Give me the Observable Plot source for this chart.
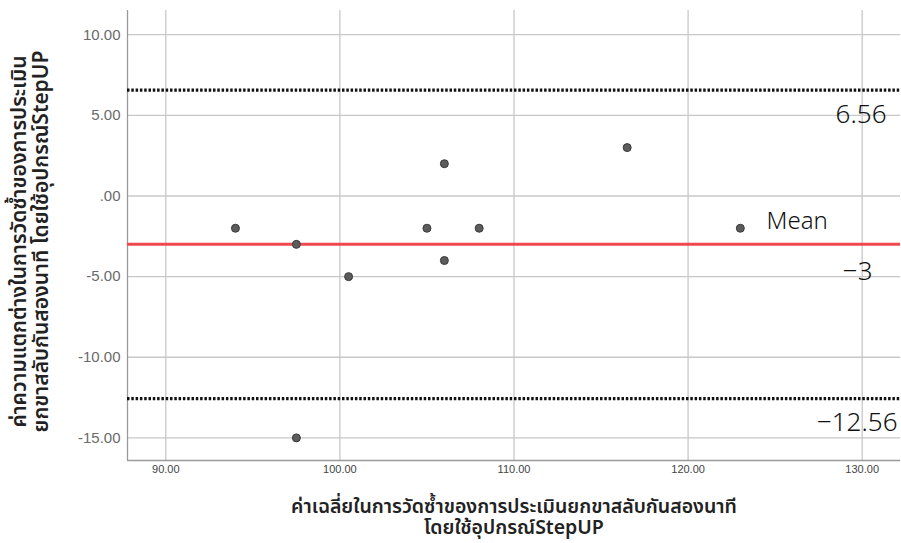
<!DOCTYPE html>
<html>
<head>
<meta charset="utf-8">
<script src="https://cdn.jsdelivr.net/npm/d3@7"></script>
<script src="https://cdn.jsdelivr.net/npm/@observablehq/plot@0.6"></script>
<style>
  html, body { margin: 0; padding: 0; background: #fff; }
  #chart svg { display: block; }
</style>
</head>
<body>
<div id="chart"></div>
<script>
// Bland–Altman data
const meanValues = [94, 97.5, 97.5, 100.5, 105, 106, 106, 108, 116.5, 123];
const diffValues = [-2, -3, -15, -5, -2, 2, -4, -2, 3, -2];
const xTicks = [90, 100, 110, 120, 130];
const yTicks = [-15, -10, -5, 0, 5, 10];
const meanDiff = -3;
const upperLimit = 6.56;
const lowerLimit = -12.56;
const limitLabels = ["6.56", "−3", "−12.56"];
const meanLabel = "Mean";
const xTitle = "ค่าเฉลี่ยในการวัดซ้ำของการประเมินยกขาสลับกันสองนาที\nโดยใช้อุปกรณ์StepUP";
const yTitle = "ค่าความแตกต่างในการวัดซ้ำของการประเมิน\nยกขาสลับกันสองนาที โดยใช้อุปกรณ์StepUP";

const points = meanValues.map((m, i) => ({x: m, y: diffValues[i]}));
const xDom = [87.8, 132.2];
const yDom = [-16.4, 11.5];
const thaiFont = "'Noto Sans Thai', 'Noto Sans', 'DejaVu Sans', sans-serif";
const annFont = "'Noto Sans', 'Open Sans', sans-serif";
const annStyle = {fontSize: 26, fill: "#111", fontFamily: annFont, fontWeight: 300, textAnchor: "end"};

const chart = Plot.plot({
  width: 901,
  height: 543,
  marginLeft: 127,
  marginRight: 1,
  marginTop: 10,
  marginBottom: 83,
  style: {background: "#fff", fontFamily: "Liberation Sans, Arial, sans-serif"},
  x: {domain: xDom},
  y: {domain: yDom},
  marks: [
    Plot.gridX(xTicks, {stroke: "#c8c8c8", strokeOpacity: 1, strokeWidth: 1.3}),
    Plot.gridY(yTicks, {stroke: "#c8c8c8", strokeOpacity: 1, strokeWidth: 1.3}),
    Plot.ruleX([xDom[0]], {stroke: "#9a9a9a", strokeWidth: 1.3}),
    Plot.ruleY([yDom[0]], {stroke: "#9a9a9a", strokeWidth: 1.3}),
    Plot.axisY(yTicks, {
      tickSize: 0, tickPadding: 7, fontSize: 15, fill: "#6a6a6a",
      tickFormat: d => d === 0 ? ".00" : d.toFixed(2), label: null,
      fontFamily: "Liberation Sans, Arial, sans-serif"
    }),
    Plot.axisX(xTicks, {
      tickSize: 0, tickPadding: 5, fontSize: 11, fill: "#444",
      tickFormat: d => d.toFixed(2), label: null,
      fontFamily: "'Liberation Sans Narrow', 'Arial Narrow', sans-serif"
    }),
    Plot.ruleY([upperLimit, lowerLimit], {stroke: "#111", strokeWidth: 3.2, strokeDasharray: "2.5,1.8"}),
    Plot.ruleY([meanDiff], {stroke: "#f0484c", strokeWidth: 3}),
    Plot.dot(points, {x: "x", y: "y", r: 4, fill: "#5c5c5c", stroke: "#3a3a3a", strokeWidth: 1}),
    Plot.text([upperLimit], {x: xDom[1], y: d => d, text: [limitLabels[0]], dx: -14, dy: 24, ...annStyle}),
    Plot.text([meanDiff], {x: xDom[1], y: d => d, text: [limitLabels[1]], dx: -28, dy: 27, ...annStyle}),
    Plot.text([lowerLimit], {x: xDom[1], y: d => d, text: [limitLabels[2]], dx: -3, dy: 24, ...annStyle}),
    Plot.text([meanDiff], {
      x: xDom[1], y: d => d, text: [meanLabel], textAnchor: "start",
      dx: -134, dy: -23, fontSize: 24, fill: "#111", fontFamily: annFont, fontWeight: 300
    }),
    Plot.text([xTitle], {
      frameAnchor: "bottom", textAnchor: "middle", lineAnchor: "middle", dy: 56,
      fontSize: 19.5, fontWeight: 600, fill: "#222", lineHeight: 1.12, fontFamily: thaiFont
    }),
    Plot.text([yTitle], {
      frameAnchor: "left", textAnchor: "middle", lineAnchor: "middle", dx: -98, dy: 6, rotate: -90,
      fontSize: 21, fontWeight: 600, fill: "#222", lineHeight: 1.05, fontFamily: thaiFont
    })
  ]
});
document.getElementById("chart").appendChild(chart);
</script>
</body>
</html>
